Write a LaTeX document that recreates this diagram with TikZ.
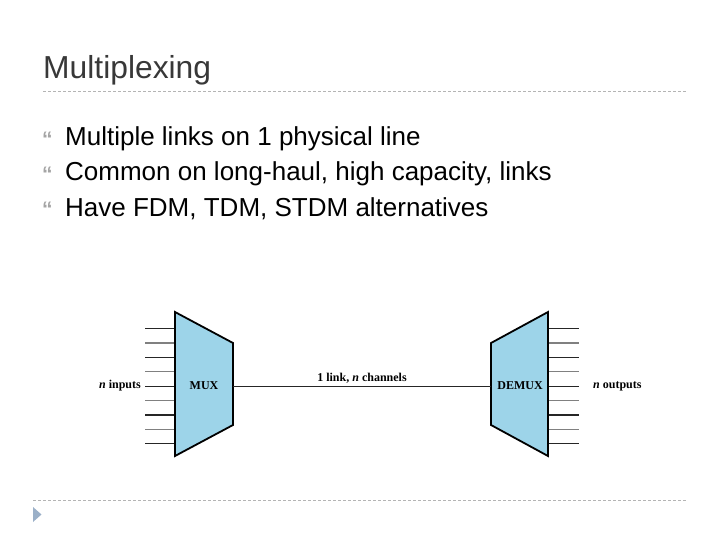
\documentclass[tikz,border=0pt]{standalone}
\usepackage{fontspec}
\setmainfont{Liberation Sans}
\newfontfamily\diagfont{Liberation Serif}
\definecolor{muxblue}{RGB}{157,212,233}
\definecolor{titlegray}{RGB}{56,56,56}
\definecolor{dashgray}{RGB}{180,180,180}
\definecolor{bulletgray}{RGB}{165,165,165}
\definecolor{triblue}{RGB}{155,176,200}
\begin{document}
\begin{tikzpicture}[x=1pt,y=-1pt,
  sep/.style={draw=dashgray,line width=0.8pt,dash pattern=on 3pt off 2pt},
  bul/.style={anchor=base west,inner sep=0pt,text=bulletgray,font=\fontsize{21}{21}\selectfont\bfseries},
  btext/.style={anchor=base west,inner sep=0pt,font=\fontsize{26}{30}\selectfont},
  box/.style={fill=muxblue,draw=black,line width=1.8pt,line join=miter},
  wirea/.style={draw=black!85,line width=1.2pt},
  wireb/.style={draw=black!50,line width=1.2pt},
  lbl/.style={inner sep=0pt,font=\diagfont\fontsize{12}{14}\selectfont\bfseries}]
\useasboundingbox (0,0) rectangle (720,540);
% title
\node[anchor=base west,inner sep=0pt,text=titlegray,font=\fontsize{31.8}{36}\selectfont] (title) at (43,79) {Multiplexing};
\coordinate (s1a) at (43,91); \coordinate (s1b) at (686,91);
\draw[sep] (s1a) -- (s1b);
% bullets
\node[bul] (b1) at (42,147) {“};
\node[bul] (b2) at (42,182) {“};
\node[bul] (b3) at (42,217) {“};
\node[btext] (t1) at (65,146) {Multiple links on 1 physical line};
\node[btext] (t2) at (65,181) {Common on long-haul, high capacity, links};
\node[btext] (t3) at (65,216) {Have FDM, TDM, STDM alternatives};
% footer
\coordinate (s2a) at (33,500); \coordinate (s2b) at (686,500);
\draw[sep] (s2a) -- (s2b);
\fill[triblue] (33,507) -- (41.5,514.5) -- (33,522) -- cycle;
% MUX / DEMUX wires
\foreach \i in {0,...,8} {
  \coordinate (in\i) at (145,{328.5+\i*14.4});
  \coordinate (mi\i) at (175,{328.5+\i*14.4});
  \coordinate (do\i) at (548,{328.5+\i*14.4});
  \coordinate (out\i) at (579,{328.5+\i*14.4});
}
\foreach \i in {0,2,4,6,8} {\draw[wirea] (in\i) -- (mi\i); \draw[wirea] (do\i) -- (out\i);}
\foreach \i in {1,3,5,7} {\draw[wireb] (in\i) -- (mi\i); \draw[wireb] (do\i) -- (out\i);}
\draw[box] (175,312) -- (233,343) -- (233,425) -- (175,456) -- cycle;
\draw[box] (491,343) -- (548,312) -- (548,456) -- (491,425) -- cycle;
\coordinate (muxr) at (233,386);
\coordinate (demuxl) at (491,386);
\draw[draw=black!85,line width=1pt] (muxr) -- (demuxl);
\node[lbl] (mux) at (204,386) {MUX};
\node[lbl] (demux) at (520,386) {DEMUX};
\node[lbl,anchor=east] (nin) at (141,386) {\textit{n} inputs};
\node[lbl,anchor=west] (nout) at (593,386) {\textit{n} outputs};
\node[lbl,anchor=base] (link) at (362,381) {1 link, \textit{n} channels};
\end{tikzpicture}
\end{document}
